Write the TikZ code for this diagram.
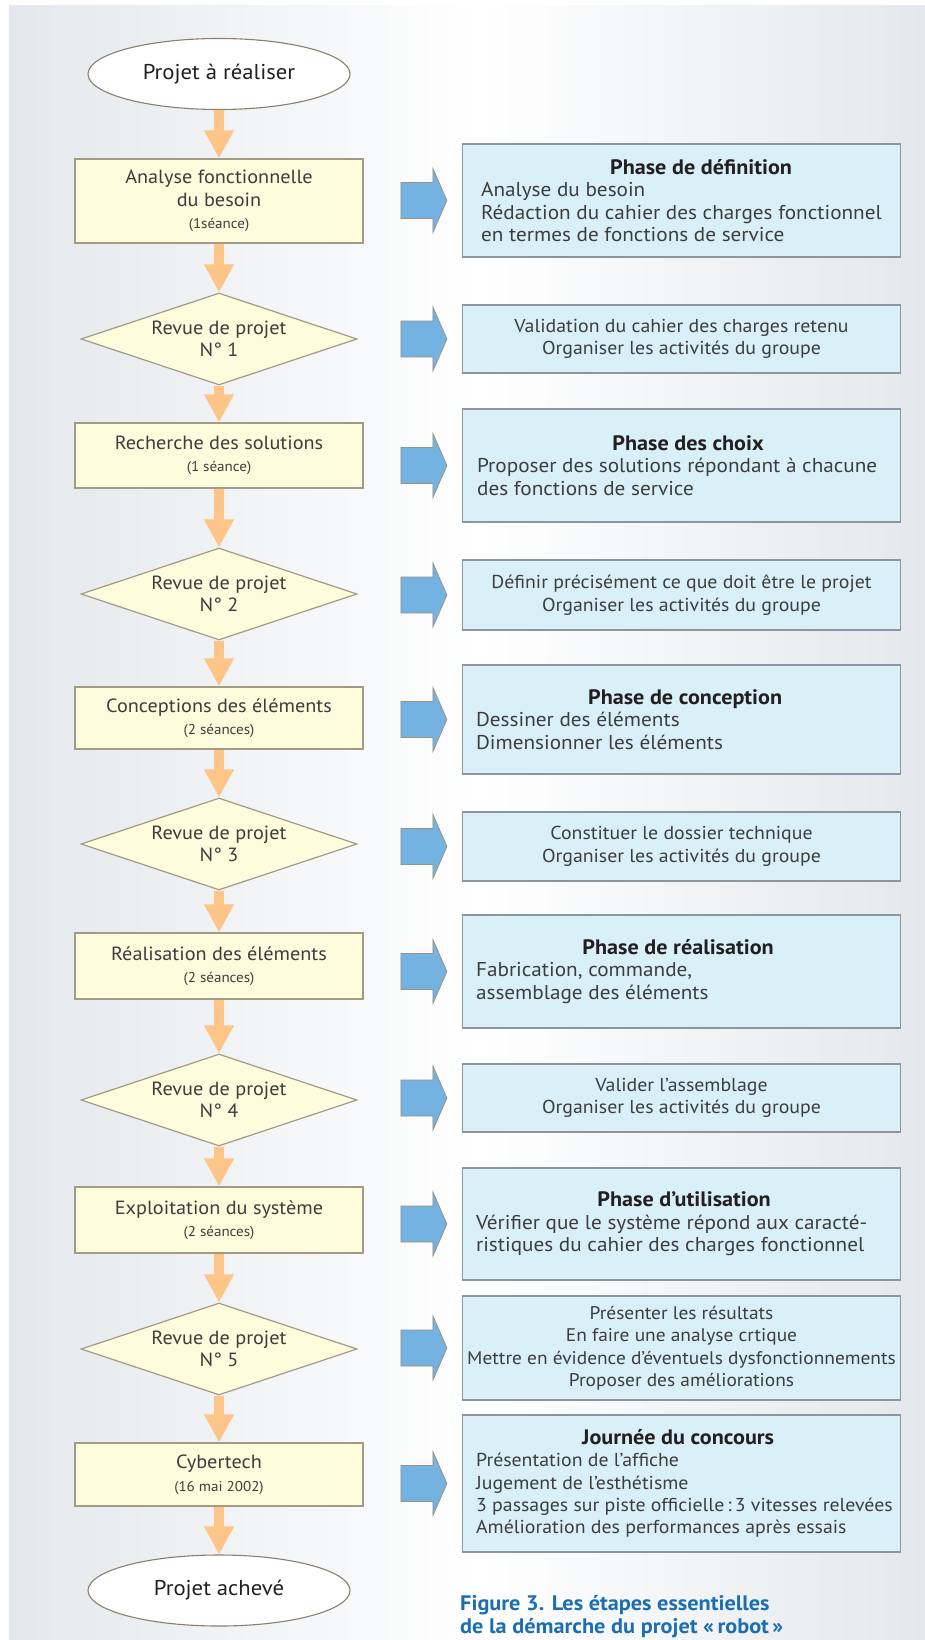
\documentclass[tikz,border=0pt]{standalone}
\usepackage{fontspec}
\setmainfont{PT Sans}[FakeStretch=1.06]
\usetikzlibrary{shapes.geometric,arrows.meta,calc}

\definecolor{panelgray}{HTML}{E4E8EC}
\definecolor{yellowfill}{HTML}{FFFBDD}
\definecolor{yellowdraw}{HTML}{A29B85}
\definecolor{bluefill}{HTML}{DAF0F8}
\definecolor{bluedraw}{HTML}{8D969C}
\definecolor{flowcol}{HTML}{FDC588}
\definecolor{blockblue}{HTML}{74B2E2}
\definecolor{blockdraw}{HTML}{9B9282}
\definecolor{ellipsedraw}{HTML}{8B7F6E}
\definecolor{textgray}{HTML}{3D3D3D}
\definecolor{titlecol}{HTML}{231F20}
\definecolor{capblue}{HTML}{1B6EAF}

\newcommand\seance[1]{{\fontsize{14.2}{22.5}\selectfont #1}}
% title line: #1 = distance from the text's left edge to the title's centre
\newsavebox\ttlbox
\newcommand\phasetitle[2]{%
  \sbox\ttlbox{\fontsize{20.9}{22.5}\selectfont\bfseries\color{titlecol}#2}%
  \hspace*{\dimexpr #1-0.5\wd\ttlbox\relax}\usebox\ttlbox}
\newcommand\bluearrow[1]{%
  \path (#1.west) ++(-15,0) coordinate (tip-#1);
  \draw[blockarrow] (tip-#1) -- ++(-14,-32) -- ++(0,14) -- ++(-32,0)
    -- ++(0,36) -- ++(32,0) -- ++(0,14) -- cycle;}

\begin{document}
\begin{tikzpicture}[x=1pt,y=-1pt,
  every node/.style={text=textgray, font={\fontsize{19.1}{22.5}\selectfont}},
  terminal/.style={ellipse, draw=ellipsedraw, line width=1.1pt, fill=white,
    minimum width=262pt, minimum height=71pt, inner sep=0pt, text=titlecol,
    font={\fontsize{21.4}{24}\selectfont}},
  stepbox/.style={rectangle, draw=yellowdraw, line width=1.2pt, fill=yellowfill,
    minimum width=288pt, inner sep=0pt, align=center},
  review/.style={diamond, shape aspect=3, draw=yellowdraw, line width=1.2pt,
    fill=yellowfill, minimum width=276pt, minimum height=92pt, inner sep=0pt,
    align=center},
  phasebox/.style={rectangle, draw=bluedraw, line width=1.2pt, fill=bluefill,
    minimum width=438pt, inner sep=0pt},
  phasetext/.style={anchor=west, inner sep=0pt, align=left,
    font={\fontsize{20}{22.5}\selectfont}},
  notebox/.style={rectangle, draw=bluedraw, line width=1.2pt, fill=bluefill,
    minimum width=438pt, inner xsep=2pt, inner ysep=0pt, align=center,
    font={\fontsize{18.7}{22.5}\selectfont}},
  flow/.style={draw=flowcol, line width=10pt, line cap=butt,
    -{Triangle[width=28pt,length=28pt]}},
  blockarrow/.style={fill=blockblue, draw=blockdraw, line width=0.8pt,
    line join=miter},
  caption/.style={text=capblue, inner sep=0pt,
    font={\fontsize{21}{23}\selectfont\bfseries}}]

\useasboundingbox (0,0) rectangle (925,1640);
\fill[white] (0,0) rectangle (925,1640);
\shade[left color=panelgray, right color=white] (9,6) rectangle (480,1640);
\shade[left color=white, right color=panelgray] (479,6) rectangle (925,1640);

% left column: the project steps
\node[terminal] (e1) at (219,74) {Projet à réaliser};
\node[stepbox, minimum height=84pt] (b1) at (219,201)
  {Analyse fonctionnelle\\du besoin\\\seance{(1séance)}};
\node[review] (d1) at (219,339) {Revue de projet\\N° 1};
\node[stepbox, minimum height=65pt] (b2) at (219,455.5)
  {Recherche des solutions\\\seance{(1 séance)}};
\node[review] (d2) at (219,594) {Revue de projet\\N° 2};
\node[stepbox, minimum height=62pt] (b3) at (219,718)
  {Conceptions des éléments\\\seance{(2 séances)}};
\node[review] (d3) at (219,844) {Revue de projet\\N° 3};
\node[stepbox, minimum height=66pt] (b4) at (219,966)
  {Réalisation des éléments\\\seance{(2 séances)}};
\node[review] (d4) at (219,1100) {Revue de projet\\N° 4};
\node[stepbox, minimum height=66pt] (b5) at (219,1220)
  {Exploitation du système\\\seance{(2 séances)}};
\node[review] (d5) at (219,1349) {Revue de projet\\N° 5};
\node[stepbox, minimum height=63pt] (b6) at (219,1474.5)
  {Cybertech\\\seance{(16 mai 2002)}};
\node[terminal] (e2) at (219,1590.5) {Projet achevé};

\foreach \a/\b in {e1/b1,b1/d1,d1/b2,b2/d2,d2/b3,b3/d3,d3/b4,b4/d4,d4/b5,b5/d5,d5/b6,b6/e2}
  {\draw[flow] (\a.south) -- (\b.north);}

% right column: what each step covers
\node[phasebox, minimum height=113pt] (p1) at (681.5,200.5) {};
\node[phasetext] (t1) at ($(p1.west)+(19,0)$)
  {\phasetitle{220pt}{Phase de définition}\\Analyse du besoin\\
   Rédaction du cahier des charges fonctionnel\\en termes de fonctions de service};
\node[notebox, minimum height=68pt] (p2) at (681.5,339)
  {Validation du cahier des charges retenu\\Organiser les activités du groupe};
\node[phasebox, minimum height=113pt] (p3) at (681.5,465.5) {};
\node[phasetext] (t3) at ($(p3.west)+(15,0)$)
  {\phasetitle{211pt}{Phase des choix}\\Proposer des solutions répondant à chacune\\
   des fonctions de service};
\node[notebox, minimum height=70pt] (p4) at (681.5,595)
  {Définir précisément ce que doit être le projet\\Organiser les activités du groupe};
\node[phasebox, minimum height=109pt] (p5) at (681.5,719.5) {};
\node[phasetext] (t5) at ($(p5.west)+(14,0)$)
  {\phasetitle{209pt}{Phase de conception}\\Dessiner des éléments\\Dimensionner les éléments};
\node[notebox, minimum height=69pt] (p6) at (681.5,846.5)
  {Constituer le dossier technique\\Organiser les activités du groupe};
\node[phasebox, minimum height=113pt] (p7) at (681.5,971.5) {};
\node[phasetext] (t7) at ($(p7.west)+(14,0)$)
  {\phasetitle{202pt}{Phase de réalisation}\\Fabrication, commande,\\assemblage des éléments};
\node[notebox, minimum height=68pt] (p8) at (681.5,1098)
  {Valider l’assemblage\\Organiser les activités du groupe};
\node[phasebox, minimum height=112pt] (p9) at (681.5,1224) {};
\node[phasetext] (t9) at ($(p9.west)+(14,0)$)
  {\phasetitle{208pt}{Phase d’utilisation}\\Vérifier que le système répond aux caracté-\\
   ristiques du cahier des charges fonctionnel};
\node[notebox, minimum height=104pt, font={\fontsize{18.3}{22.5}\selectfont}] (p10) at (681.5,1348)
  {Présenter les résultats\\En faire une analyse crtique\\
   Mettre en évidence d’éventuels dysfonctionnements\\Proposer des améliorations};
\node[phasebox, minimum height=137pt] (p11) at (681.5,1483.5) {};
\node[phasetext, font={\fontsize{18.7}{22.3}\selectfont}] (t11) at ($(p11.west)+(14,0)$)
  {\phasetitle{202pt}{Journée du concours}\\Présentation de l’affiche\\Jugement de l’esthétisme\\
   3 passages sur piste officielle\,:\,3 vitesses relevées\\
   Amélioration des performances après essais};

\foreach \p in {p1,p2,p3,p4,p5,p6,p7,p8,p9,p10,p11}
  {\bluearrow{\p}}

\node[caption, anchor=base west] (cap) at (460,1610)
  {\vtop{\hbox{Figure 3. Les étapes essentielles}
         \hbox{de la démarche du projet «\,robot\,»}}};
\end{tikzpicture}
\end{document}
